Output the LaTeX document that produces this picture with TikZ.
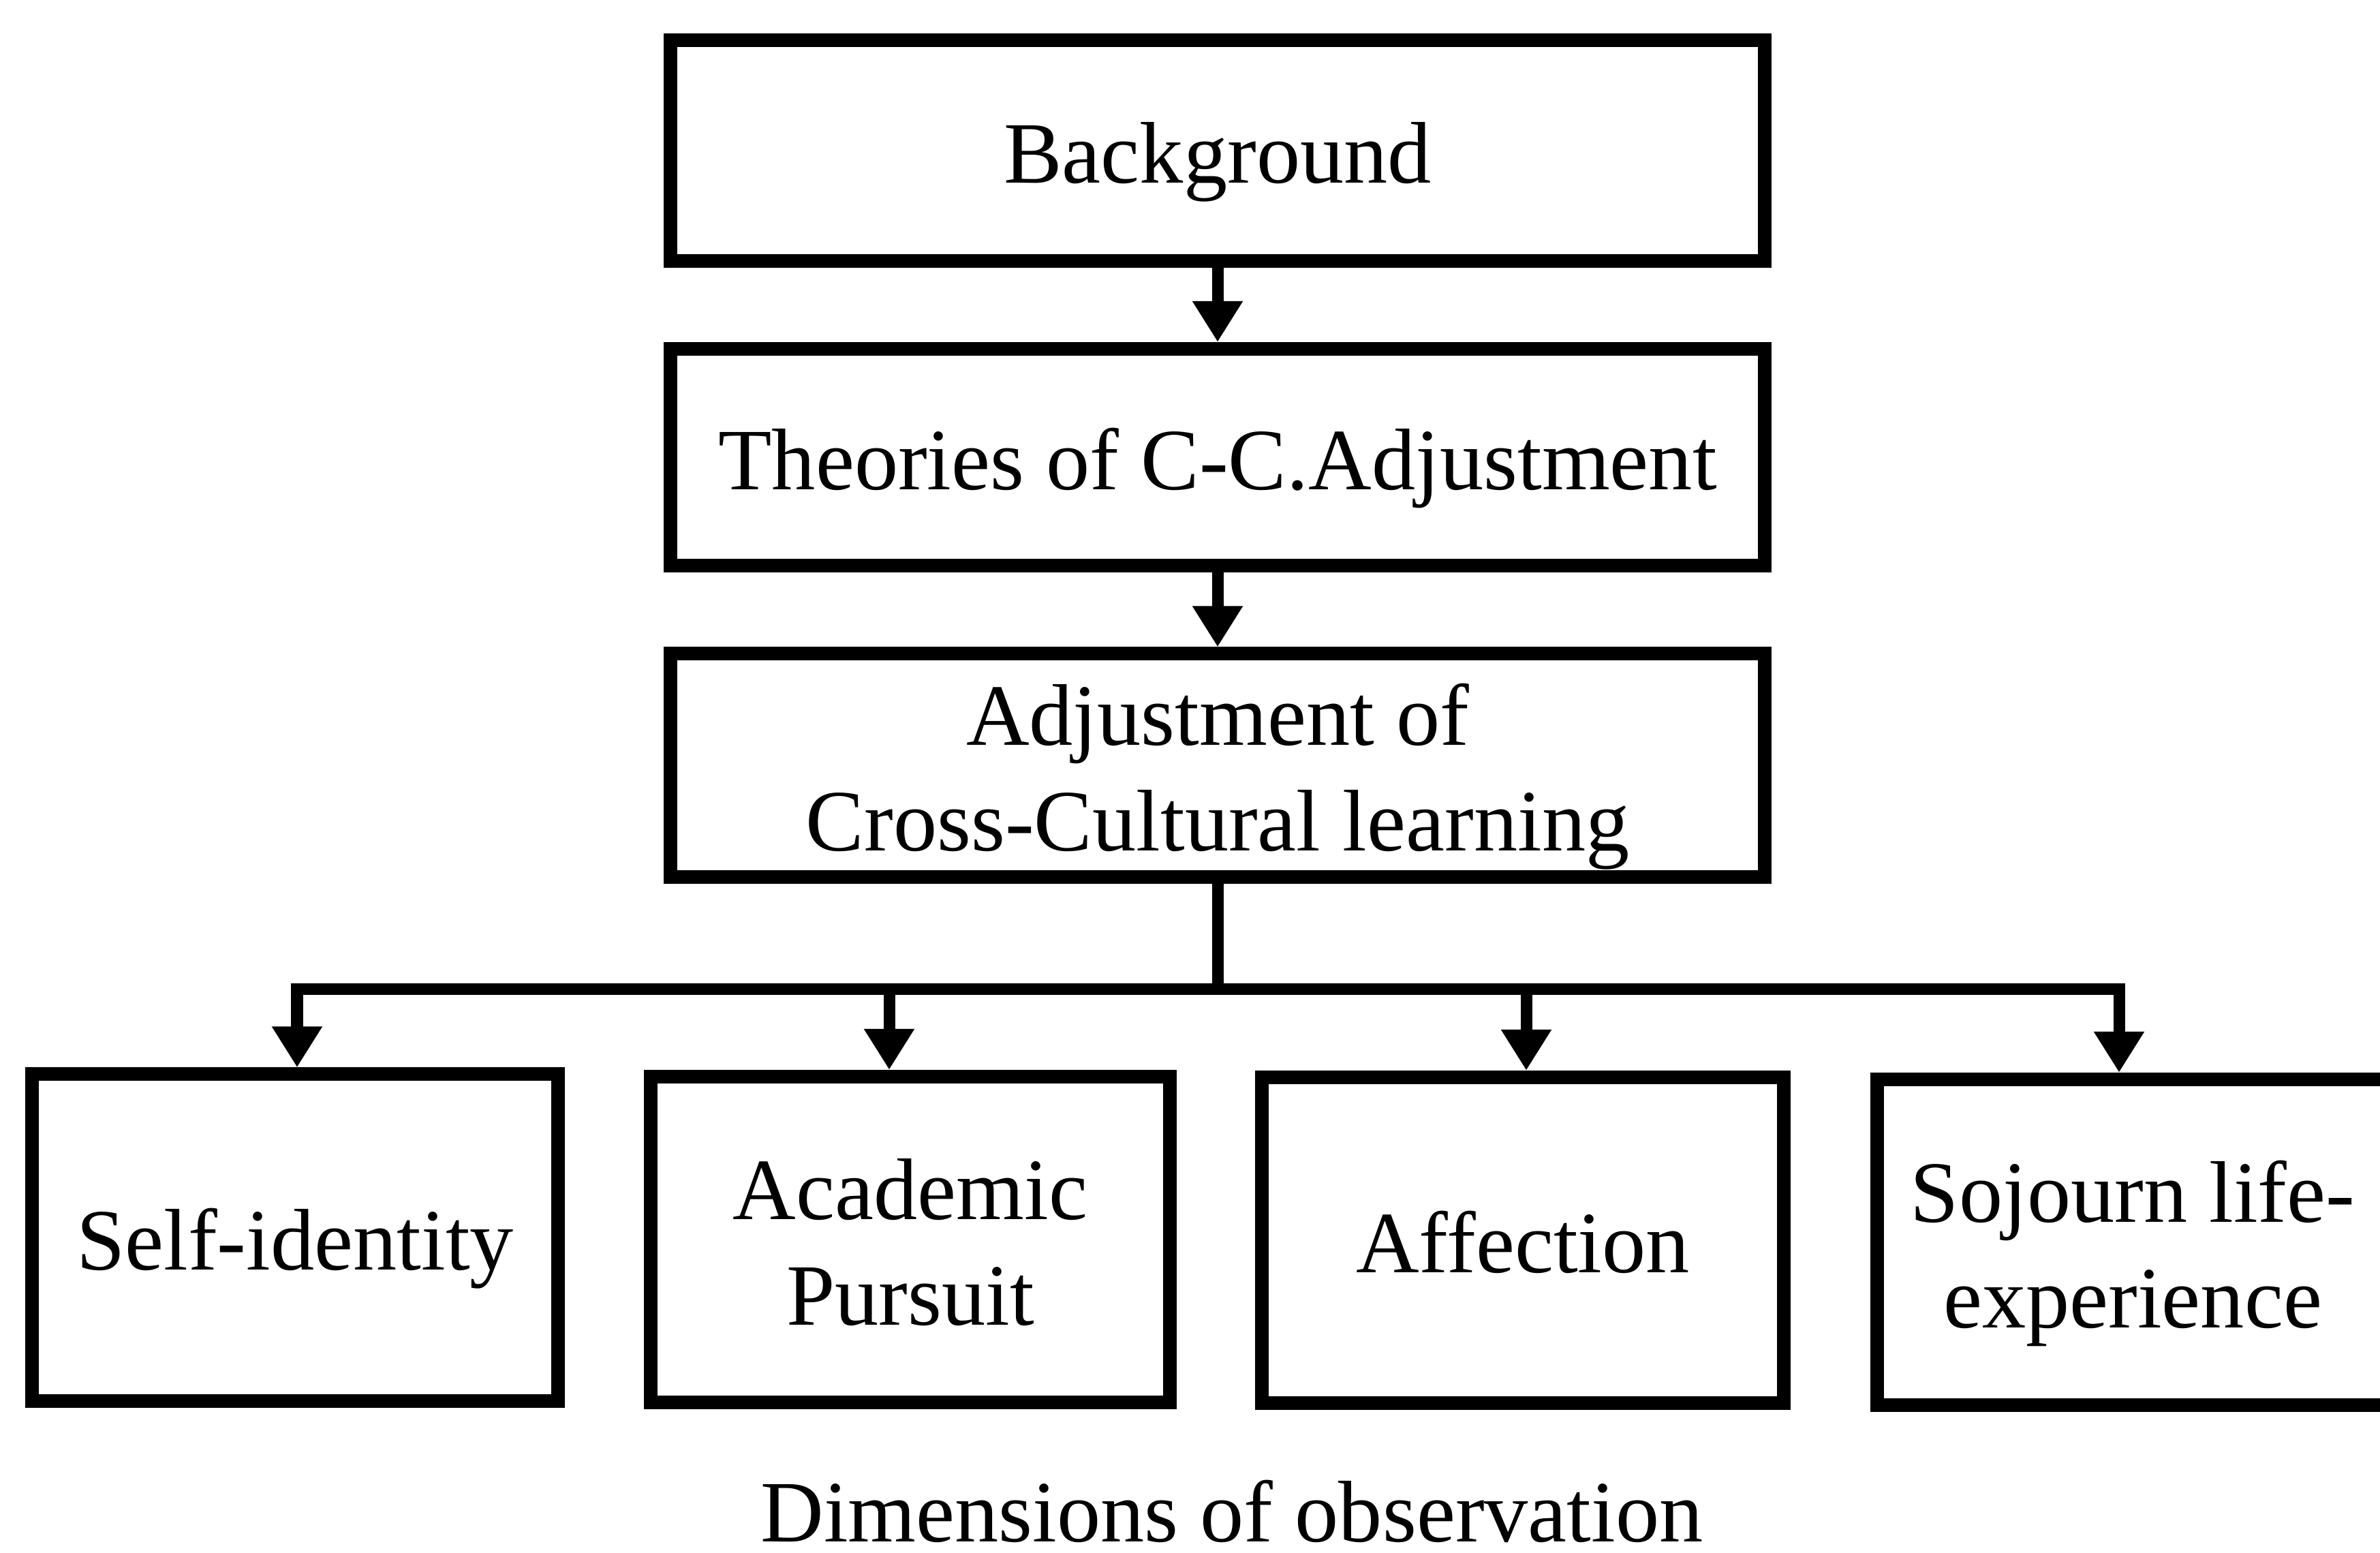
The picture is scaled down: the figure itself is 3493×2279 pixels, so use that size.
\documentclass[tikz,border=0pt]{standalone}
\usepackage{fontspec}
\setmainfont{Liberation Serif}
\usetikzlibrary{arrows.meta}
% centred lines, set a little below the middle of their box
\newcommand{\boxtext}[1]{\raisebox{-0.17cm}[\height][\depth]{\begin{tabular}{@{}c@{}}#1\end{tabular}}}
\begin{document}
\begin{tikzpicture}[x=0.01cm,y=-0.01cm,
  box/.style={draw=black, line width=0.2cm, fill=white, inner sep=0pt,
    font=\fontsize{36.5}{44}\selectfont},
  link/.style={draw=black, line width=0.17cm},
  arr/.style={link, -{Triangle[length=0.6cm, width=0.7cm]}},
  caption/.style={inner sep=0pt, font=\fontsize{36.5}{44}\selectfont}]
\useasboundingbox (0,0) rectangle (3493,2279);
\clip (0,0) rectangle (3493,2279);

% main chain
\node[box, minimum width=16.05cm, minimum height=3.23cm] (bg)  at (1787,221)  {\boxtext{Background}};
\node[box, minimum width=16.05cm, minimum height=3.18cm] (th)  at (1787,671)  {\boxtext{Theories of C-C.Adjustment}};
\node[box, minimum width=16.05cm, minimum height=3.27cm] (adj) at (1787,1123) {\boxtext{Adjustment of\\Cross-Cultural learning}};

% dimensions
\node[box, minimum width=7.71cm, minimum height=4.79cm] (self) at (433,1816)  {\boxtext{Self-identity}};
\node[box, minimum width=7.61cm, minimum height=4.78cm] (acad) at (1336,1819) {\boxtext{Academic\\Pursuit}};
\node[box, minimum width=7.66cm, minimum height=4.78cm] (aff)  at (2235,1820) {\boxtext{Affection}};
\node[box, minimum width=7.50cm, minimum height=4.78cm] (soj)  at (3130,1823) {\boxtext{Sojourn life-\\experience}};

\node[caption, anchor=base] (cap) at (1808,2262) {Dimensions of observation};

% arrows between the chain boxes
\draw[arr] (bg) -- (th);
\draw[arr] (th) -- (adj);

% distribution bus
\coordinate (busL) at (436,1451);
\coordinate (busA) at (1305,1451);
\coordinate (busF) at (2240,1451);
\coordinate (busR) at (3110,1451);

\draw[link] (adj.south) -- (adj.south |- busL);
\draw[arr] (adj.south |- busL) -- (busL) -- (busL |- self.north);
\draw[arr] (adj.south |- busR) -- (busR) -- (busR |- soj.north);
\draw[arr] (busA) -- (busA |- acad.north);
\draw[arr] (busF) -- (busF |- aff.north);
\end{tikzpicture}
\end{document}
